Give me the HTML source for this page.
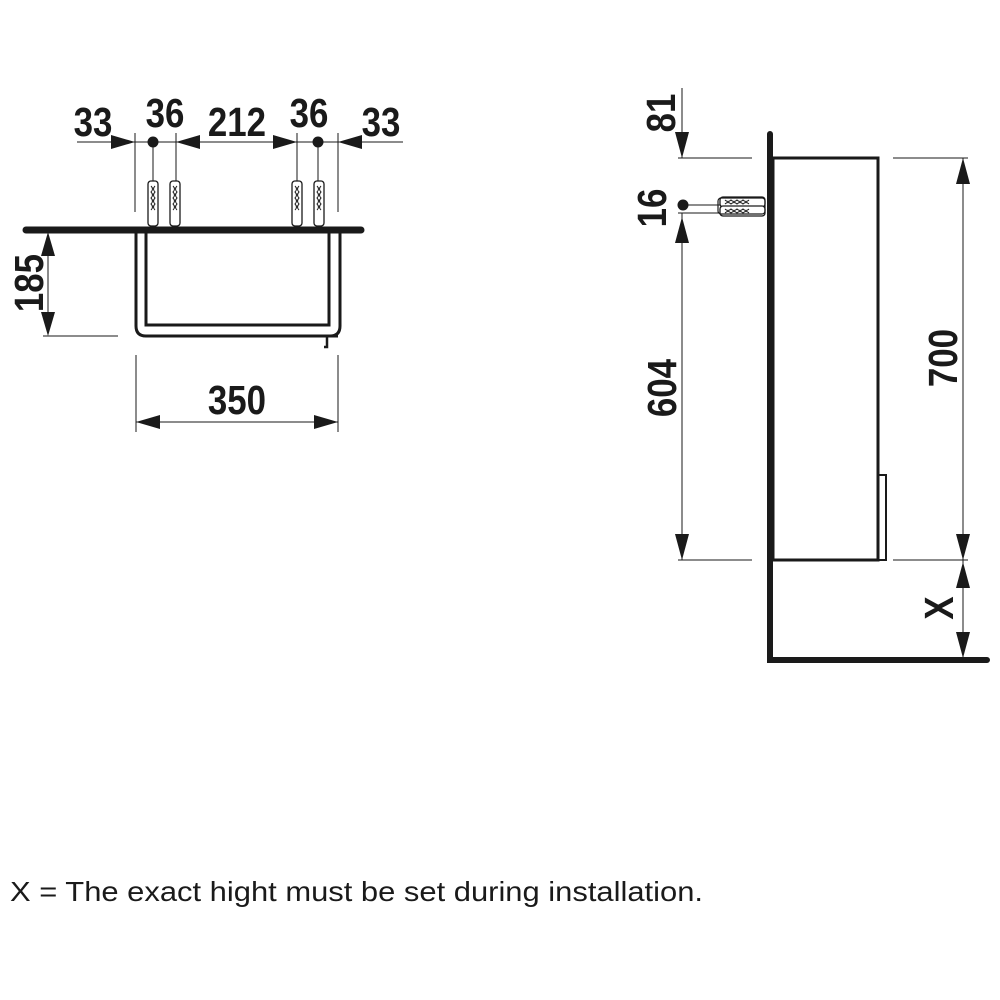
<!DOCTYPE html>
<html><head><meta charset="utf-8"><style>
html,body{margin:0;padding:0;background:#fff;}
svg{display:block;}
.d{font-family:"Liberation Sans",sans-serif;font-weight:bold;font-size:41px;fill:#1a1a1a;}
</style></head><body>
<svg width="1000" height="1000" viewBox="0 0 1000 1000" xmlns="http://www.w3.org/2000/svg">
<defs>
<g id="anc">
<rect x="-5" y="0" width="10" height="45" fill="#fff" stroke="#1a1a1a" stroke-width="1.3" rx="3"/>
<path d="M-2 5 q3 3 0 6 q3 3 0 6 q3 3 0 6 q3 3 0 6 M2 5 q-3 3 0 6 q-3 3 0 6 q-3 3 0 6 q-3 3 0 6" fill="none" stroke="#1a1a1a" stroke-width="1"/>
</g>
</defs>
<g stroke="#1a1a1a" fill="none">
<line x1="77" y1="142" x2="403" y2="142" stroke-width="1"/>
<line x1="135" y1="133" x2="135" y2="212" stroke-width="1"/>
<line x1="176" y1="133" x2="176" y2="225" stroke-width="1"/>
<line x1="297" y1="133" x2="297" y2="225" stroke-width="1"/>
<line x1="338" y1="133" x2="338" y2="212" stroke-width="1"/>
<line x1="153" y1="142" x2="153" y2="225" stroke-width="1"/>
<line x1="318" y1="142" x2="318" y2="225" stroke-width="1"/>
<line x1="26" y1="230" x2="361" y2="230" stroke-width="7" stroke-linecap="round"/>
<path d="M136 232 V326 q0 10 10 10 H338 M340 232 V326 q0 10 -10 10" stroke-width="3"/>
<path d="M146 232 V325 H329 V232" stroke-width="3"/>
<path d="M327 336 V347 H324" stroke-width="2.5"/>
<line x1="48" y1="248" x2="48" y2="322" stroke-width="1"/>
<line x1="43" y1="336" x2="118" y2="336" stroke-width="1"/>
<line x1="136" y1="355" x2="136" y2="432" stroke-width="1"/>
<line x1="338" y1="355" x2="338" y2="432" stroke-width="1"/>
<line x1="136" y1="422" x2="338" y2="422" stroke-width="1"/>
<path d="M770 134 V660 H987" stroke-width="6" stroke-linecap="round"/>
<rect x="773" y="158" width="105" height="402" stroke-width="3"/>
<path d="M878 475 H886 V560 H878" stroke-width="2"/>
<line x1="682" y1="88" x2="682" y2="158" stroke-width="1"/>
<line x1="678" y1="158" x2="752" y2="158" stroke-width="1"/>
<line x1="683" y1="205" x2="765" y2="205" stroke-width="1"/>
<line x1="678" y1="213" x2="765" y2="213" stroke-width="1"/>
<line x1="682" y1="213" x2="682" y2="560" stroke-width="1"/>
<line x1="678" y1="560" x2="752" y2="560" stroke-width="1"/>
<line x1="893" y1="158" x2="968" y2="158" stroke-width="1"/>
<line x1="893" y1="560" x2="968" y2="560" stroke-width="1"/>
<line x1="963" y1="158" x2="963" y2="660" stroke-width="1"/>
</g>
<g fill="#1a1a1a">
<circle cx="153" cy="142" r="5.5"/><circle cx="318" cy="142" r="5.5"/>
<circle cx="683" cy="205" r="5.5"/>
<path d="M135 142 L111 135 L111 149Z"/>
<path d="M176 142 L200 135 L200 149Z"/>
<path d="M297 142 L273 135 L273 149Z"/>
<path d="M338 142 L362 135 L362 149Z"/>
<path d="M48 232 L41 256 L55 256Z"/>
<path d="M48 336 L41 312 L55 312Z"/>
<path d="M136 422 L160 415 L160 429Z"/>
<path d="M338 422 L314 415 L314 429Z"/>
<path d="M682 158 L675 132 L689 132Z"/>
<path d="M682 217 L675 243 L689 243Z"/>
<path d="M682 560 L675 534 L689 534Z"/>
<path d="M963 158 L956 184 L970 184Z"/>
<path d="M963 560 L956 534 L970 534Z"/>
<path d="M963 562 L956 588 L970 588Z"/>
<path d="M963 658 L956 632 L970 632Z"/>
</g>
<use href="#anc" x="153" y="181"/><use href="#anc" x="175" y="181"/>
<use href="#anc" x="297" y="181"/><use href="#anc" x="319" y="181"/>
<g transform="translate(720,205) rotate(-90)"><use href="#anc" x="3" y="0"/><use href="#anc" x="-6" y="0"/></g>
<rect x="718" y="198" width="47" height="16" fill="none" stroke="#1a1a1a" stroke-width="1.2" rx="3"/>
<g class="d" text-anchor="middle">
<text transform="translate(93 136) scale(0.85 1)">33</text>
<text transform="translate(165 127) scale(0.85 1)">36</text>
<text transform="translate(237 136) scale(0.85 1)">212</text>
<text transform="translate(309 127) scale(0.85 1)">36</text>
<text transform="translate(381 136) scale(0.85 1)">33</text>
<text transform="translate(43 283) rotate(-90) scale(0.85 1)">185</text>
<text transform="translate(237 414) scale(0.85 1)">350</text>
<text transform="translate(675 113) rotate(-90) scale(0.85 1)">81</text>
<text transform="translate(666 208) rotate(-90) scale(0.85 1)">16</text>
<text transform="translate(676 388) rotate(-90) scale(0.85 1)">604</text>
<text transform="translate(957 358) rotate(-90) scale(0.85 1)">700</text>
<text transform="translate(953 608) rotate(-90) scale(0.85 1)">X</text>
</g>
<text x="10" y="901" font-family="Liberation Sans, sans-serif" font-size="28" fill="#1a1a1a" textLength="693" lengthAdjust="spacingAndGlyphs">X = The exact hight must be set during installation.</text>
</svg>
</body></html>
